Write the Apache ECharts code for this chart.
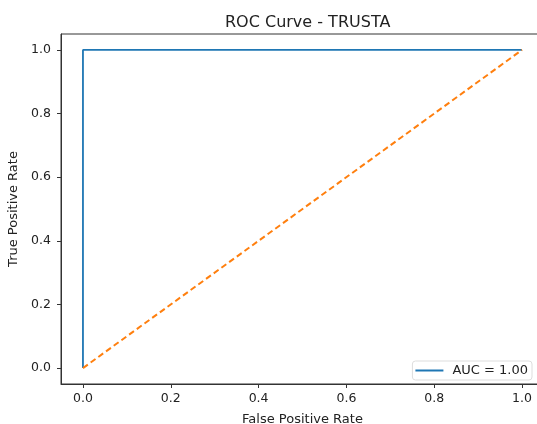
<!DOCTYPE html>
<html>
<head>
<meta charset="utf-8">
<script src="https://cdn.jsdelivr.net/npm/echarts@6/dist/echarts.min.js"></script>
<style>
  html, body { margin: 0; padding: 0; background: #fff; overflow: hidden; }
  #main { width: 537px; height: 424px; }
</style>
</head>
<body>
<div id="main"></div>
<script>
// ROC points (false positive rate, true positive rate)
const fpr = [0, 0, 1];
const tpr = [0, 1, 1];
// chance diagonal
const diagX = [0, 1];
const diagY = [0, 1];
const tickLabels = [0, 0.2, 0.4, 0.6, 0.8, 1.0];
const aucLabel = "AUC = 1.00";

const chart = echarts.init(document.getElementById("main"));
const font = "DejaVu Sans";

// the axes box runs a little past the right edge of the picture
chart.setOption({
  animation: false,
  title: {
    text: "ROC Curve - TRUSTA",
    left: 220,
    top: 10,
    textStyle: { fontFamily: font, fontSize: 16, fontWeight: "normal", color: "#222" }
  },
  grid: {
    left: 61, top: 34, width: 483, bottom: 40,
    outerBoundsMode: "none",
    show: true, borderColor: "#333", borderWidth: 1
  },
  legend: {
    data: [{ name: aucLabel, icon: "rect" }],
    right: 5, bottom: 44,
    itemWidth: 28, itemHeight: 2,
    padding: [3, 4, 3, 3],
    borderColor: "#ddd", borderWidth: 1, borderRadius: 3,
    textStyle: { fontFamily: font, fontSize: 13, color: "#222", padding: [0, 0, 0, 4] }
  },
  xAxis: {
    type: "value",
    min: -0.05, max: 1.05,
    name: "False Positive Rate",
    nameLocation: "middle",
    nameGap: 29,
    nameTextStyle: { fontFamily: font, fontSize: 13, color: "#222" },
    axisLine: { show: true, onZero: false, lineStyle: { color: "#333" } },
    axisTick: { show: true, length: 4, lineStyle: { color: "#333" }, customValues: tickLabels },
    axisLabel: { fontFamily: font, fontSize: 12.5, color: "#222", margin: 8,
      customValues: tickLabels, formatter: v => v.toFixed(1) },
    splitLine: { show: false }
  },
  yAxis: {
    type: "value",
    min: -0.05, max: 1.05,
    name: "True Positive Rate",
    nameLocation: "middle",
    nameGap: 36,
    nameTextStyle: { fontFamily: font, fontSize: 13, color: "#222" },
    axisLine: { show: true, onZero: false, lineStyle: { color: "#333" } },
    axisTick: { show: true, length: 4, lineStyle: { color: "#333" }, customValues: tickLabels },
    axisLabel: { fontFamily: font, fontSize: 12.5, color: "#222", margin: 10,
      customValues: tickLabels, formatter: v => v.toFixed(1) },
    splitLine: { show: false }
  },
  series: [
    {
      name: aucLabel,
      type: "line",
      data: fpr.map((x, i) => [x, tpr[i]]),
      showSymbol: false,
      color: "#1f77b4",
      lineStyle: { width: 1.8, color: "#1f77b4" }
    },
    {
      name: "diagonal",
      type: "line",
      data: diagX.map((x, i) => [x, diagY[i]]),
      showSymbol: false,
      color: "#ff7f0e",
      lineStyle: { width: 2, type: [6, 3.5], color: "#ff7f0e" }
    }
  ]
});
</script>
</body>
</html>
